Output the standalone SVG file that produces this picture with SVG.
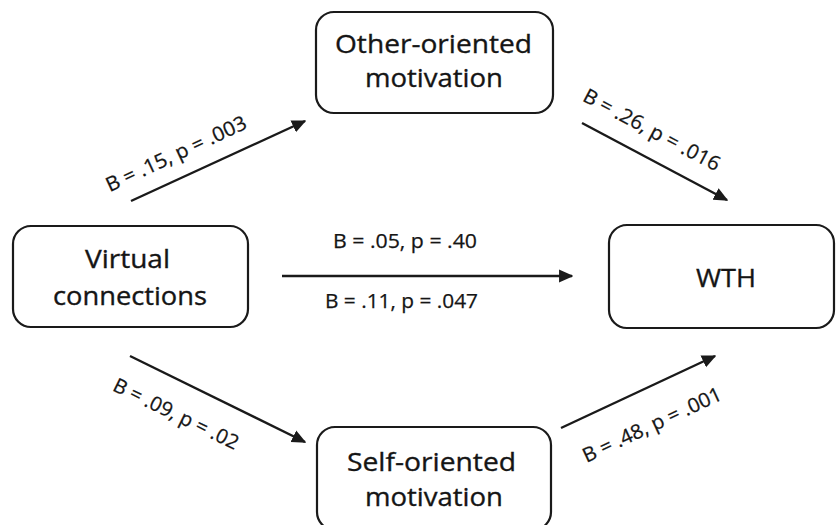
<svg xmlns="http://www.w3.org/2000/svg" width="836" height="525" viewBox="0 0 836 525">
<style>
.box{fill:#fff;stroke:#1a1a1a;stroke-width:2.2}
.nt{font-family:"Open Sans","Liberation Sans",sans-serif;font-size:26px;fill:#151515;stroke:#151515;stroke-width:0.35;text-anchor:middle}
.lb{font-family:"Open Sans","Liberation Sans",sans-serif;font-size:20px;fill:#151515;stroke:#151515;stroke-width:0.25;text-anchor:middle}
.ln{stroke:#1a1a1a;stroke-width:2.4;fill:none;marker-end:url(#ah)}
</style>
<defs>
<marker id="ah" viewBox="0 0 10 10" refX="9" refY="5" markerWidth="6" markerHeight="6" markerUnits="strokeWidth" orient="auto">
<path d="M0,0.5 L10,5 L0,9.5 z" fill="#1a1a1a"/>
</marker>
</defs>
<rect width="836" height="525" fill="#fff"/>
<g id="other">
<rect class="box" x="316" y="12" width="237" height="101" rx="18"/>
<text class="nt" x="433.5" y="53" textLength="197" lengthAdjust="spacingAndGlyphs">Other-oriented</text>
<text class="nt" x="434" y="87" textLength="138" lengthAdjust="spacingAndGlyphs">motivation</text>
</g>
<g id="virtual">
<rect class="box" x="13" y="226" width="235" height="101" rx="18"/>
<text class="nt" x="127.5" y="268" textLength="85" lengthAdjust="spacingAndGlyphs">Virtual</text>
<text class="nt" x="130" y="305" textLength="154" lengthAdjust="spacingAndGlyphs">connections</text>
</g>
<g id="wth">
<rect class="box" x="609" y="225" width="225" height="103" rx="18"/>
<text class="nt" x="726" y="287" textLength="60" lengthAdjust="spacingAndGlyphs">WTH</text>
</g>
<g id="self">
<rect class="box" x="317" y="427" width="234" height="103" rx="18"/>
<text class="nt" x="431.5" y="471" textLength="169" lengthAdjust="spacingAndGlyphs">Self-oriented</text>
<text class="nt" x="434" y="506" textLength="138" lengthAdjust="spacingAndGlyphs">motivation</text>
</g>
<g id="connectors">
<line class="ln" x1="131" y1="201" x2="305" y2="121"/>
<line class="ln" x1="582" y1="123" x2="727" y2="200"/>
<line class="ln" x1="282" y1="276" x2="572" y2="276"/>
<line class="ln" x1="130" y1="356" x2="305" y2="442"/>
<line class="ln" x1="561" y1="428" x2="715" y2="356"/>
</g>
<g id="labels">
<text class="lb" transform="translate(179,160) rotate(-25)" textLength="153" lengthAdjust="spacingAndGlyphs">B = .15, p = .003</text>
<text class="lb" transform="translate(648.5,136) rotate(28)" textLength="152" lengthAdjust="spacingAndGlyphs">B = .26, p = .016</text>
<text class="lb" x="405" y="248" textLength="144" lengthAdjust="spacingAndGlyphs">B = .05, p = .40</text>
<text class="lb" x="401.5" y="308" textLength="153" lengthAdjust="spacingAndGlyphs">B = .11, p = .047</text>
<text class="lb" transform="translate(173,420) rotate(26)" textLength="137" lengthAdjust="spacingAndGlyphs">B = .09, p = .02</text>
<text class="lb" transform="translate(655,431) rotate(-25)" textLength="151" lengthAdjust="spacingAndGlyphs">B = .48, p = .001</text>
</g>
</svg>
